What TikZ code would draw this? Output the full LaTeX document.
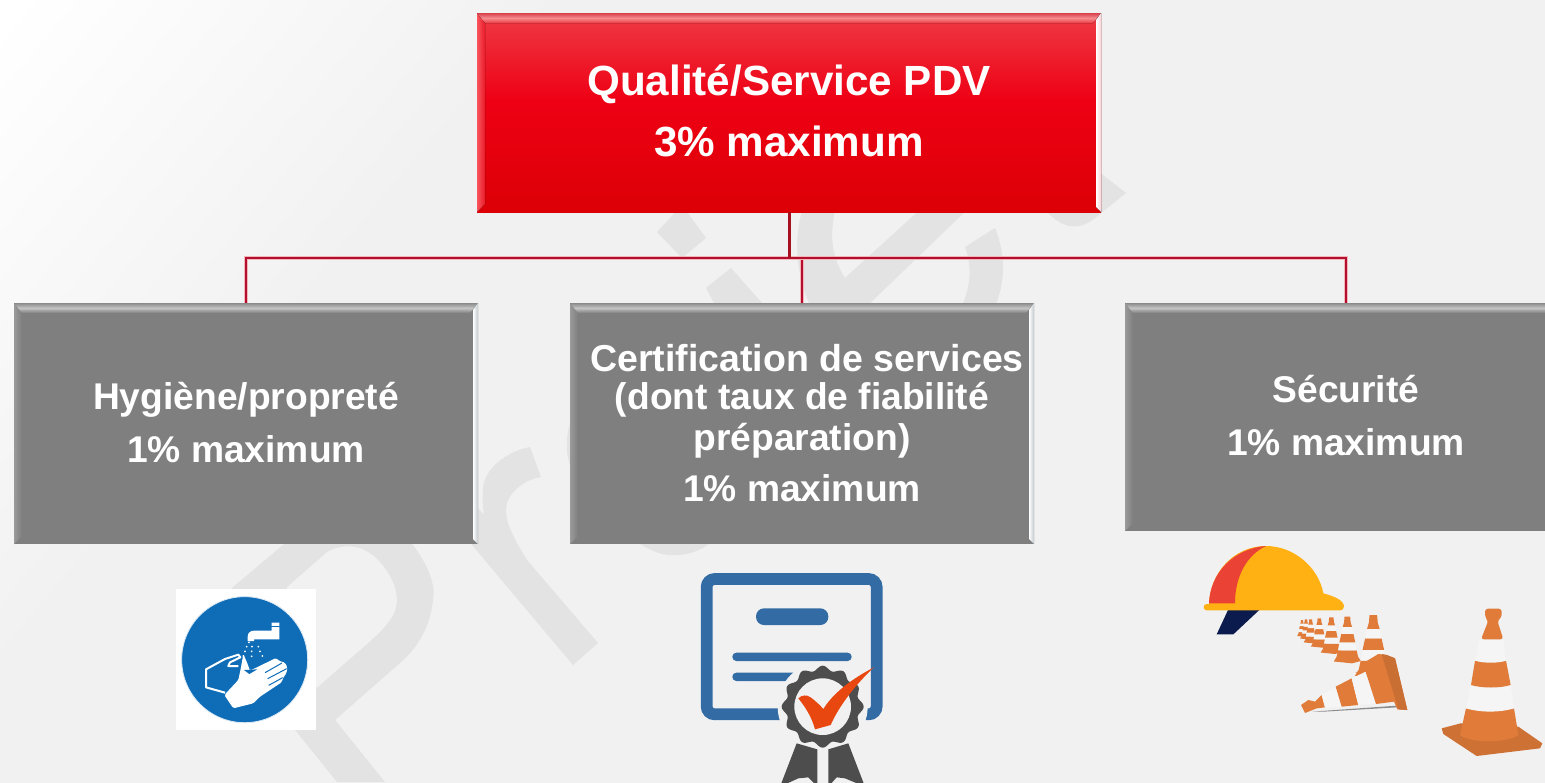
\documentclass[tikz,border=0pt]{standalone}
\usepackage{fontspec}
\setmainfont{Liberation Sans}
\usetikzlibrary{calc}
\definecolor{bgc}{HTML}{F1F1F1}
\definecolor{wm}{HTML}{E3E3E3}
\definecolor{boxgray}{HTML}{7F7F7F}
\definecolor{wirec}{HTML}{B40F2A}
\definecolor{wirehalo}{HTML}{F2B6BC}
\definecolor{stemc}{HTML}{A61020}
\definecolor{signblue}{HTML}{0F6DB8}
\definecolor{certblue}{HTML}{336CA4}
\definecolor{badge}{HTML}{4D4D4D}
\definecolor{tick}{HTML}{E8470F}
\definecolor{helm}{HTML}{FFB012}
\definecolor{helmred}{HTML}{EA4335}
\definecolor{navy}{HTML}{0B1B4D}
\definecolor{coneo}{HTML}{E07B39}
\definecolor{conew}{HTML}{F5F5F5}
\definecolor{redtop}{HTML}{EE3B45}
\definecolor{redmid}{HTML}{EE0014}
\definecolor{redlow}{HTML}{DC0006}
\definecolor{rededge}{HTML}{D8404C}
\definecolor{redlight}{HTML}{F58C8E}
\definecolor{redleft}{HTML}{F8555C}
\definecolor{redinner}{HTML}{EA1A28}
\definecolor{redright}{HTML}{FBD0D4}
\definecolor{grayedge}{HTML}{8A8A8A}
\definecolor{graylight}{HTML}{C4C4C4}
\definecolor{grayleft}{HTML}{9A9A9A}
\definecolor{grayright}{HTML}{C0C8CC}
\pgfdeclareverticalshading{redface}{100bp}{
  color(0bp)=(redlow); color(25bp)=(redlow); color(53bp)=(redmid); color(75bp)=(redtop); color(100bp)=(redtop)}
\tikzset{
  bevel/.style n args={6}{path picture={
    \coordinate (nw) at (path picture bounding box.north west);
    \coordinate (ne) at (path picture bounding box.north east);
    \coordinate (sw) at (path picture bounding box.south west);
    \coordinate (se) at (path picture bounding box.south east);
    \fill[left color=#3,right color=#6] (nw) -- ++(8,10) -- ($(sw)+(8,-8)$) -- (sw) -- cycle;
    \fill[top color=#1,bottom color=#5,middle color=#2] (nw) -- (ne) -- ++(-8,10) -- ($(nw)+(8,10)$) -- cycle;
    \fill[left color=white,right color=#4] (ne) -- ++(-5,7) -- ($(se)+(-5,-5)$) -- (se) -- cycle;
  }},
  box/.style={rectangle,inner sep=0pt,align=center,text=white,anchor=center,
    font=\bfseries\fontsize{37.2}{53}\selectfont},
  graybox/.style={box,fill=boxgray,minimum width=464pt,
    bevel={grayedge}{graylight}{grayleft}{grayright}{boxgray}{boxgray}},
  redbox/.style={box,minimum width=624pt,minimum height=199pt,shading=redface,
    font=\bfseries\fontsize{42.2}{61}\selectfont,
    bevel={rededge}{redlight}{redleft}{redright}{redtop}{redinner}},
  wire/.style={draw=wirec,line width=1.8pt,preaction={draw=wirehalo,line width=3.4pt}},
  stem/.style={draw=stemc,line width=3pt},
  wmark/.style={fill=wm,draw=none},
}
\newcommand{\lowpad}{\rule[-3pt]{0pt}{1pt}}
\begin{document}
\begin{tikzpicture}[x=1pt,y=-1pt]
\useasboundingbox (0,0) rectangle (1545,782);
\clip (0,0) rectangle (1545,782);
% background: white corner fading into light grey
\fill[white] (0,0) rectangle (1545,782);
\begin{scope}[rotate=-40]
  \foreach \lev in {1,...,14}{
    \pgfmathsetmacro{\pos}{\lev*30}
    \pgfmathsetmacro{\mixv}{\lev/14*100}
    \fill[bgc!\mixv!white] (\pos,-2500) rectangle (3000,2500);
  }
\end{scope}
% watermark
\fill[wmark,even odd rule]
  (233,587) -- (283,545) .. controls (320,515) and (390,510) .. (413,545)
  .. controls (428,565) and (436,585) .. (433,600)
  .. controls (430,630) and (415,650) .. (400,663) -- (335,720) -- (385,782) -- (337,782) -- (295,730) -- (200,620) -- cycle
  (287,587) -- (327,552) .. controls (345,542) and (365,545) .. (380,562)
  .. controls (398,582) and (402,605) .. (390,620) .. controls (380,635) and (365,645) .. (317,688) -- (280,640) -- cycle;
\fill[wmark] (573,665) -- (598,643) -- (527,560) .. controls (515,540) and (506,525) .. (506,510)
  .. controls (506,495) and (522,480) .. (541,477) -- (530,447)
  .. controls (505,452) and (483,470) .. (483,490) .. controls (482,500) and (483,508) .. (484,515)
  -- (478,508) -- (460,520) -- (472,545) -- cycle;
\fill[wmark] (657,232) -- (682,205) -- (706,238) -- (682,258) -- cycle;
\fill[wmark] (706,288) -- (731,268) -- (770,312) -- (719,312) -- cycle;
\fill[wmark] (804,205) -- (836,205) .. controls (832,225) and (827,250) .. (845,278) -- (925,205) -- (972,205)
  -- (863,310) -- (812,310) .. controls (800,285) and (790,245) .. (804,205) -- cycle;
\fill[wmark] (965,247) -- (995,228) .. controls (1006,255) and (1006,285) .. (993,310) -- (960,310)
  .. controls (970,290) and (973,268) .. (965,247) -- cycle;
\fill[wmark] (1090,165) -- (1126,193) -- (1095,218) .. controls (1080,230) and (1065,230) .. (1048,213) -- (1040,200) -- cycle;
\fill[wmark] (635,535) -- (640,544) .. controls (655,553) and (665,556) .. (676,555) .. controls (690,555) and (702,550) .. (714,540) -- cycle;
\fill[wmark] (572,418) .. controls (565,435) and (565,455) .. (572,470) -- cycle;
% boxes
\node[redbox] (top) at (789,112.5) {Qualité/Service PDV\\3\% maximum\lowpad};
\node[graybox,minimum height=241pt] (c1) at (246,423.5) {Hygiène/propreté\\1\% maximum\lowpad};
\node[graybox,minimum height=241pt,font=\bfseries\fontsize{37.2}{38}\selectfont] (c2) at (802,423.5)
  {\hspace*{10pt}{\fontsize{37.5}{38}\selectfont Certification de services}\\(dont taux de fiabilité\\[3pt]préparation)\\[13pt]1\% maximum};
\node[graybox,minimum height=228pt,minimum width=442pt] (c3) at (1346,417) {Sécurité\\1\% maximum\lowpad};
% connectors
\coordinate (bus) at (789,258);
\draw[wire] (c1.north) |- (bus);
\draw[wire] (c2.north) |- (bus);
\draw[wire] (c3.north) |- (bus);
\draw[stem] (top.south) -- (bus);
% hand-washing sign
\fill[white] (176,589) rectangle (316,730);
\begin{scope}[shift={(170,580)},x=0.33333pt,y=-0.33333pt]
  \fill[signblue,draw=white!85!signblue,line width=0.8pt] (224,239) circle[radius=189];
  \fill[white] (305,128) -- (328,128) -- (328,178) -- (252,178) -- (252,183) -- (233,183) -- (233,170)
     .. controls (233,158) and (242,152) .. (252,152) -- (305,152) -- cycle;
  \fill[signblue] (303,138) rectangle (330,142);
  \foreach \dx/\dy in {237/187,230/200,246/200,265/200,225/214,245/214,270/214,220/228,245/229,277/228}
    \fill[white] (\dx,\dy) circle[radius=2.8];
  \draw[white,line width=2pt,line join=round] (165,338) -- (108,322) -- (108,268) -- (165,237) -- (205,224) -- (211,232) -- (180,247) -- (175,258) -- (205,258);
  \fill[white,rounded corners=1.5pt] (163,345) -- (205,300) -- (213,262) -- (220,222) -- (232,250) -- (240,272)
    -- (318,234) -- (328,243) -- (345,248) -- (352,262) -- (350,278) -- (338,296) -- (336,306) -- (270,350) -- (250,370) -- (190,385) -- cycle;
  \draw[signblue,line width=1pt] (285,278) -- (336,249) (293,296) -- (350,266) (296,316) -- (338,293);
  \fill[signblue] (222,270) -- (262,268) -- (238,282) -- cycle;
\end{scope}
% certificate
\begin{scope}[shift={(680,560)},x=0.33333pt,y=-0.33333pt]
  \draw[certblue,line width=11.7pt,rounded corners=8pt] (80,57) rectangle (590,463);
  \fill[certblue,rounded corners=8pt] (228,145) rectangle (445,195);
  \fill[certblue,rounded corners=4pt] (157,278) rectangle (515,303);
  \fill[certblue,rounded corners=4pt] (157,338) rectangle (400,363);
  \fill[bgc] (428,440) circle[radius=135];
  \fill[badge] (350,550) -- (412,568) -- (412,680) -- (385,652) -- (355,655) -- (300,680) -- cycle;
  \fill[badge] (445,568) -- (505,550) -- (555,680) -- (495,655) -- (470,652) -- (445,680) -- cycle;
  \fill[badge] plot[domain=0:360,samples=145] ({428+(116+7*cos(12*\x))*cos(\x)},{440+(116+7*cos(12*\x))*sin(\x)}) -- cycle;
  \fill[bgc] (428,440) circle[radius=85];
  \fill[tick] (355,415) .. controls (365,405) and (380,403) .. (392,412) .. controls (405,422) and (420,435) .. (430,447)
    .. controls (450,415) and (490,370) .. (582,322) .. controls (540,360) and (480,430) .. (452,495)
    -- (405,508) .. controls (395,470) and (375,440) .. (355,415) -- cycle;
\end{scope}
% helmet and cones
\begin{scope}[shift={(1190,530)},x=0.33333pt,y=-0.33333pt]
  \fill[navy] (115,238) -- (210,238) -- (130,313) -- (80,313) -- cycle;
  \fill[helm] (57,222) .. controls (60,130) and (130,48) .. (228,48) .. controls (310,48) and (385,110) .. (400,190)
     .. controls (430,198) and (462,210) .. (462,230) .. controls (462,238) and (455,241) .. (450,241)
     -- (50,241) .. controls (38,241) and (38,222) .. (50,222) -- cycle;
  \fill[helmred] (57,220) .. controls (60,130) and (130,55) .. (228,48) .. controls (170,75) and (135,140) .. (135,220) -- cycle;
  % row of standing cones
  \foreach \cx/\cy/\ch in {336/270/50,348/268/60,362/268/72,388/265/88,424/262/110,472/260/140,550/255/190}{
    \begin{scope}[shift={(\cx,\cy)},scale={\ch/100}]
      \fill[coneo] (-20,72) -- (20,72) -- (23,86) -- (29,95) -- (10,100) -- (-29,96) -- (-23,86) -- cycle;
      \fill[conew] (-17,55) -- (17,55) -- (20,72) -- (-20,72) -- cycle;
      \fill[coneo] (-13,37) -- (13,37) -- (17,55) -- (-17,55) -- cycle;
      \fill[conew] (-10,22) -- (10,22) -- (13,37) -- (-13,37) -- cycle;
      \fill[coneo] (-6,0) -- (6,0) -- (7,12) -- (10,22) -- (-10,22) -- (-7,12) -- cycle;
    \end{scope}
  }
  % fallen cone
  \fill[black!45] (365,545) -- (620,527) -- (622,532) -- (400,545) -- cycle;
  \fill[coneo] (333,525) -- (355,510) -- (375,515) -- (395,495) -- (405,532) -- (380,535) -- (345,549) -- cycle;
  \fill[conew] (395,495) -- (438,470) -- (455,530) -- (405,533) -- cycle;
  \fill[coneo] (437,470) -- (485,445) -- (505,525) -- (455,530) -- cycle;
  \fill[conew] (485,445) -- (527,425) -- (558,520) -- (505,525) -- cycle;
  \fill[coneo] (495,428) -- (520,420) -- (510,405) -- (565,372) -- (590,375) -- (615,385) -- (652,540) -- (622,538) -- (612,515) -- (558,522) -- (527,425) -- cycle;
  \fill[coneo!90!black] (575,372) -- (590,375) -- (615,385) -- (652,540) -- (625,538) -- cycle;
  % standing big cone
  \fill[coneo!92!black] (755,595) -- (812,580) -- (985,590) -- (1057,640) -- (1050,655) -- (860,678) -- (760,612) -- cycle;
  \fill[coneo] (828,535) -- (972,535) -- (985,615) .. controls (950,640) and (840,640) .. (810,615) -- cycle;
  \fill[conew] (843,465) -- (962,465) -- (972,535) .. controls (930,548) and (870,548) .. (828,535) -- cycle;
  \fill[coneo] (855,392) -- (948,392) -- (962,465) .. controls (930,475) and (875,475) .. (843,465) -- cycle;
  \fill[conew] (868,330) -- (940,330) -- (948,392) .. controls (925,400) and (880,400) .. (855,392) -- cycle;
  \fill[coneo,rounded corners=3pt] (885,236) -- (935,236) -- (935,262) -- (922,272) -- (940,328) -- (873,328) -- (895,272) -- (885,262) -- cycle;
\end{scope}
\end{tikzpicture}
\end{document}
